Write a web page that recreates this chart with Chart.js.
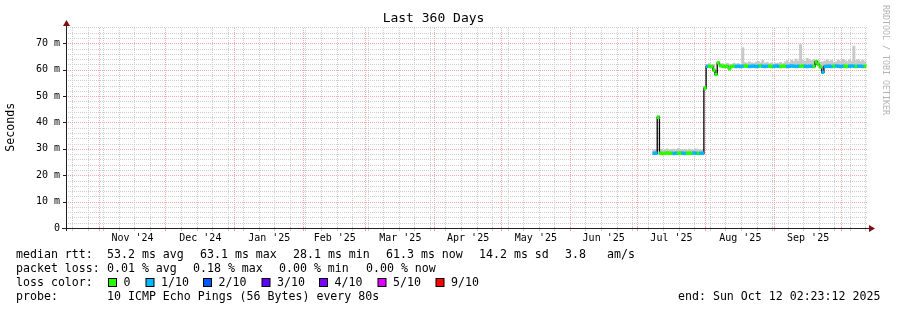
<!DOCTYPE html>
<html>
<head>
<meta charset="utf-8">
<script src="https://cdn.jsdelivr.net/npm/chart.js@4"></script>
<style>
  html, body { margin: 0; padding: 0; background: #fff; }
</style>
</head>
<body>
<canvas id="chart" width="897" height="310"></canvas>
<script>
// graph window: 360 days ending Sun Oct 12 02:23:12 2025
const startMs = Date.UTC(2024, 9, 17, 2, 23, 12);
const DAY = 86400000;
const xMin = 0.4, xMax = 360.4;
const yMax = 76.4;

const monthStarts = ['2024-11-01', '2024-12-01', '2025-01-01', '2025-02-01', '2025-03-01', '2025-04-01',
  '2025-05-01', '2025-06-01', '2025-07-01', '2025-08-01', '2025-09-01', '2025-10-01'];
const monthLabels = ["Nov '24", "Dec '24", "Jan '25", "Feb '25", "Mar '25", "Apr '25",
  "May '25", "Jun '25", "Jul '25", "Aug '25", "Sep '25"];
const firstSunday = '2024-10-20';
const yTickLabels = ['0', '10 m', '20 m', '30 m', '40 m', '50 m', '60 m', '70 m'];

// one value per day, starting 264 days after the window start (early July 2025)
const dataFirstDay = 264;
const median = [
  28.3, 28.3, 42.0, 28.3, 28.2, 28.3, 28.4, 28.3, 28.3, 28.2,
  28.3, 28.3, 28.4, 28.3, 28.2, 28.3, 28.3, 28.3, 28.4, 28.3,
  28.2, 28.3, 28.3, 53.0, 61.2, 61.3, 61.2, 59.8, 58.2, 62.6,
  61.5, 61.3, 61.2, 61.3, 60.4, 61.2, 61.3, 61.2, 61.3, 61.2,
  61.3, 61.4, 61.3, 61.2, 61.3, 61.3, 61.2, 61.3, 61.4, 61.3,
  61.2, 61.3, 61.3, 61.2, 61.3, 61.4, 61.3, 61.2, 61.3, 61.3,
  61.2, 61.3, 61.4, 61.3, 61.2, 61.3, 61.3, 61.4, 61.3, 61.2,
  61.3, 61.3, 61.2, 63.0, 62.0, 61.0, 59.0, 61.2, 61.3, 61.3,
  61.2, 61.3, 61.4, 61.3, 61.2, 61.3, 61.3, 61.2, 61.3, 61.4,
  61.3, 61.2, 61.3, 61.3, 61.2, 61.3
];
const smokeHi = [
  29.6, 29.8, 42.5, 29.9, 29.5, 29.7, 30.0, 29.6, 29.8, 29.9,
  29.5, 30.2, 29.7, 29.6, 29.8, 29.5, 29.9, 29.7, 29.6, 30.0,
  29.8, 29.5, 29.6, 53.5, 62.0, 62.3, 61.8, 62.1, 59.2, 63.0,
  62.2, 62.3, 62.0, 62.4, 62.1, 61.9, 62.5, 62.2, 62.3, 62.0,
  68.4, 62.8, 62.5, 63.0, 62.6, 62.4, 62.9, 63.2, 62.7, 63.6,
  62.5, 62.8, 62.3, 62.6, 62.2, 62.5, 62.4, 62.8, 62.3, 63.0,
  63.4, 62.7, 63.6, 63.2, 64.0, 63.3, 69.5, 63.5, 63.2, 64.3,
  63.8, 63.4, 63.9, 63.5, 63.6, 62.8, 63.0, 63.3, 63.8, 63.2,
  63.5, 62.8, 63.0, 63.6, 63.2, 63.9, 63.4, 63.1, 63.7, 63.3,
  68.9, 63.4, 63.8, 63.2, 63.6, 63.1
];
// packet loss per day, in tenths
const loss = [
  1, 1, 0, 0, 0, 0, 0, 0, 0, 1,
  1, 0, 0, 1, 1, 0, 0, 0, 1, 1,
  0, 1, 1, 0, 1, 0, 0, 0, 0, 0,
  0, 0, 0, 0, 0, 0, 0, 1, 1, 1,
  1, 0, 0, 1, 1, 1, 1, 1, 0, 1,
  1, 1, 0, 0, 1, 1, 1, 0, 0, 0,
  1, 1, 1, 1, 1, 1, 0, 0, 1, 1,
  1, 1, 0, 0, 0, 0, 1, 1, 1, 1,
  1, 0, 1, 1, 1, 1, 0, 0, 1, 1,
  1, 0, 1, 1, 1, 0
];
const lossLevels = ['0', '1/10', '2/10', '3/10', '4/10', '5/10', '9/10'];
const lossColors = ['#26ff00', '#00b8ff', '#0059ff', '#5e00ff', '#7e00ff', '#dd00ff', '#ff0000'];

const rttStats = ['53.2 ms avg', '63.1 ms max', '28.1 ms min', '61.3 ms now', '14.2 ms sd', '3.8', 'am/s'];
const lossStats = ['0.01 % avg', '0.18 % max', '0.00 % min', '0.00 % now'];
const probeText = '10 ICMP Echo Pings (56 Bytes) every 80s';
const endText = 'end: Sun Oct 12 02:23:12 2025';

const dayOf = s => (Date.parse(s) - startMs) / DAY;

// x grid: red month starts, grey weekly (sundays), labels mid-month
const monthDays = monthStarts.map(dayOf);
const weekDays = [];
for (let d = dayOf(firstSunday); d < xMax; d += 7) weekDays.push(d);
const labelDays = monthLabels.map((_, i) => (monthDays[i] + monthDays[i + 1]) / 2);
const labelAt = new Map(labelDays.map((d, i) => [d, monthLabels[i]]));

const GREY = '#cfcfcf';
const RED = '#f3a8a8';
const FONT = 'DejaVu Sans Mono';

const xs = median.map((_, i) => dataFirstDay + i + 0.5);

// rrdtool style dotted grid, placed through the chart's own scales
const rrdGrid = {
  id: 'rrdGrid',
  beforeDatasetsDraw(chart) {
    const { ctx, chartArea: a, scales: { x, y } } = chart;
    const top = Math.ceil(a.top), bot = Math.round(a.bottom);
    const left = Math.round(a.left), right = Math.round(a.right);
    ctx.save();
    const vline = (px, color) => {
      ctx.fillStyle = color;
      for (let yy = bot - 2; yy >= top; yy -= 2) ctx.fillRect(px, yy, 1, 1);
    };
    const hline = (py, color) => {
      ctx.fillStyle = color;
      for (let xx = left + 1; xx < right; xx += 2) ctx.fillRect(xx, py, 1, 1);
    };
    for (let v = 2; v <= yMax; v += 2) {
      if (v % 10 !== 0) hline(Math.round(y.getPixelForValue(v)), GREY);
    }
    weekDays.forEach(d => {
      if (monthDays.some(m => Math.abs(m - d) < 0.5)) return;
      vline(Math.floor(x.getPixelForValue(d)), GREY);
    });
    for (let v = 10; v <= yMax; v += 10) hline(Math.round(y.getPixelForValue(v)), RED);
    monthDays.forEach(d => vline(Math.floor(x.getPixelForValue(d)), RED));
    ctx.restore();
  },
  afterDatasetsDraw(chart) {
    const { ctx, chartArea: a, scales: { x, y } } = chart;
    const bot = Math.round(a.bottom);
    const ax = Math.round(a.left) - 1;
    ctx.save();
    // tick marks
    weekDays.forEach(d => {
      ctx.fillStyle = GREY;
      ctx.fillRect(Math.floor(x.getPixelForValue(d)), bot - 2, 1, 5);
    });
    monthDays.forEach(d => {
      ctx.fillStyle = RED;
      ctx.fillRect(Math.floor(x.getPixelForValue(d)), bot - 2, 1, 5);
    });
    ctx.fillStyle = '#202020';
    for (let v = 10; v <= yMax; v += 10) ctx.fillRect(ax - 3, Math.round(y.getPixelForValue(v)), 3, 1);
    // axes
    ctx.fillRect(62, bot, 808, 1);
    ctx.fillRect(ax, a.top - 1, 1, bot - a.top + 4);
    // arrows
    ctx.fillStyle = '#7f1010';
    ctx.beginPath();
    ctx.moveTo(869, bot - 3);
    ctx.lineTo(875, bot + 0.5);
    ctx.lineTo(869, bot + 4);
    ctx.closePath();
    ctx.fill();
    ctx.beginPath();
    ctx.moveTo(ax - 3, 26);
    ctx.lineTo(ax + 0.5, 20);
    ctx.lineTo(ax + 4, 26);
    ctx.closePath();
    ctx.fill();
    ctx.restore();
  },
  afterDraw(chart) {
    const ctx = chart.ctx;
    ctx.save();
    ctx.fillStyle = '#000';
    ctx.font = '11.6px "' + FONT + '"';
    ctx.textBaseline = 'middle';
    ctx.textAlign = 'left';
    const r1 = 254.5, r2 = 268.5, r3 = 282.5, r4 = 296.5;
    ctx.fillText('median rtt:', 16, r1);
    [107, 200, 293, 386, 479, 565, 607].forEach((x, i) => ctx.fillText(rttStats[i], x, r1));
    ctx.fillText('packet loss:', 16, r2);
    [107, 193, 279, 366].forEach((x, i) => ctx.fillText(lossStats[i], x, r2));
    ctx.fillText('loss color:', 16, r3);
    const boxX = [108.5, 146, 203.5, 262, 319.5, 378, 436];
    lossLevels.forEach((lbl, i) => {
      ctx.fillStyle = lossColors[i];
      ctx.fillRect(boxX[i], 278.5, 8, 8);
      ctx.strokeStyle = '#000';
      ctx.lineWidth = 1;
      ctx.strokeRect(boxX[i], 278.5, 8, 8);
      ctx.fillStyle = '#000';
      ctx.fillText(lbl, boxX[i] + 15, r3);
    });
    ctx.fillText('probe:', 16, r4);
    ctx.fillText(probeText, 107, r4);
    ctx.fillText(endText, 678, r4);
    // watermark
    ctx.translate(885, 5);
    ctx.rotate(Math.PI / 2);
    ctx.font = '8.3px "' + FONT + '"';
    ctx.fillStyle = '#b4b4b4';
    ctx.textBaseline = 'middle';
    ctx.fillText('RRDTOOL / TOBI OETIKER', 0, 0);
    ctx.restore();
  }
};

new Chart(document.getElementById('chart'), {
  type: 'bar',
  data: {
    datasets: [
      {
        type: 'bar',
        label: 'smoke',
        data: xs.map((x, i) => ({ x, y: [median[i] - 0.3, smokeHi[i]] })),
        backgroundColor: '#c8c8c8',
        borderWidth: 0,
        barPercentage: 1,
        categoryPercentage: 1,
        grouped: false,
        order: 3
      },
      {
        type: 'line',
        label: 'median',
        data: xs.map((x, i) => ({ x, y: median[i] })),
        borderColor: '#000',
        borderWidth: 1.3,
        stepped: 'middle',
        pointRadius: 0,
        fill: false,
        order: 2
      },
      {
        type: 'bar',
        label: 'loss',
        data: xs.map((x, i) => ({ x, y: [median[i] - 0.55, median[i] + 0.55] })),
        backgroundColor: ctx => lossColors[loss[ctx.dataIndex]],
        borderWidth: 0,
        barPercentage: 1,
        categoryPercentage: 1,
        grouped: false,
        order: 1
      }
    ]
  },
  options: {
    responsive: false,
    animation: false,
    devicePixelRatio: 1,
    layout: { padding: { left: 0, right: 30, top: 0, bottom: 0 } },
    plugins: {
      legend: { display: false },
      tooltip: { enabled: false },
      title: {
        display: true,
        text: 'Last 360 Days',
        color: '#000',
        font: { family: FONT, size: 13, weight: 'normal' },
        padding: { top: 10.8, bottom: 0 }
      }
    },
    scales: {
      x: {
        type: 'linear',
        min: xMin,
        max: xMax,
        offset: false,
        afterBuildTicks: scale => {
          scale.ticks = labelDays.map(v => ({ value: v }));
        },
        afterFit: scale => { scale.height = 82; },
        grid: {
          offset: false,
          drawOnChartArea: false,
          tickColor: 'rgba(0,0,0,0)',
          tickLength: 3
        },
        border: { display: false },
        ticks: {
          autoSkip: false,
          maxRotation: 0,
          minRotation: 0,
          padding: 1,
          color: '#000',
          font: { family: FONT, size: 10 },
          callback: v => labelAt.get(v) || ''
        }
      },
      y: {
        type: 'linear',
        min: 0,
        max: yMax,
        afterBuildTicks: scale => {
          scale.ticks = yTickLabels.map((_, i) => ({ value: i * 10 }));
        },
        afterFit: scale => { scale.width = 67; },
        title: {
          display: true,
          text: 'Seconds',
          color: '#000',
          font: { family: FONT, size: 11.6 },
          padding: { top: 4, bottom: 0 }
        },
        grid: {
          drawOnChartArea: false,
          tickColor: 'rgba(0,0,0,0)',
          tickLength: 3
        },
        border: { display: false },
        ticks: {
          autoSkip: false,
          padding: 4,
          color: '#000',
          font: { family: FONT, size: 10 },
          callback: v => yTickLabels[Math.round(v / 10)]
        }
      }
    }
  },
  plugins: [rrdGrid]
});
</script>
</body>
</html>
